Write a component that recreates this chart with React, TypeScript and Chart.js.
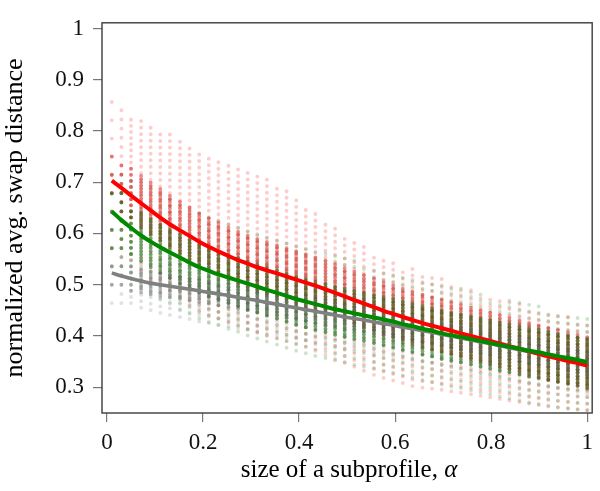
import { useEffect, useRef } from 'react';
import { Chart, registerables } from 'chart.js';

Chart.register(...registerables);

// subprofile sizes (one column of dots per value)
const alphaCols = [
  0.01, 0.03, 0.05, 0.071, 0.091, 0.111, 0.131, 0.152, 0.172, 0.192,
  0.212, 0.232, 0.253, 0.273, 0.293, 0.313, 0.333, 0.354, 0.374, 0.394,
  0.414, 0.434, 0.455, 0.475, 0.495, 0.515, 0.535, 0.556, 0.576, 0.596,
  0.616, 0.636, 0.657, 0.677, 0.697, 0.717, 0.737, 0.758, 0.778, 0.798,
  0.818, 0.838, 0.859, 0.879, 0.899, 0.919, 0.939, 0.96, 0.98, 1.0,
];

// mean curves
const redLine = [
  0.703, 0.689, 0.674, 0.659, 0.645, 0.631, 0.618, 0.606, 0.595, 0.584,
  0.574, 0.565, 0.556, 0.548, 0.541, 0.534, 0.528, 0.522, 0.516, 0.51,
  0.504, 0.498, 0.491, 0.484, 0.477, 0.47, 0.463, 0.456, 0.449, 0.443,
  0.437, 0.431, 0.425, 0.42, 0.415, 0.41, 0.405, 0.4, 0.395, 0.39,
  0.385, 0.38, 0.375, 0.37, 0.365, 0.36, 0.356, 0.351, 0.347, 0.342,
];
const greenLine = [
  0.643, 0.626, 0.611, 0.596, 0.584, 0.573, 0.563, 0.553, 0.543, 0.534,
  0.527, 0.52, 0.514, 0.508, 0.502, 0.496, 0.49, 0.484, 0.478, 0.472,
  0.467, 0.462, 0.457, 0.452, 0.448, 0.444, 0.44, 0.436, 0.432, 0.428,
  0.423, 0.419, 0.414, 0.41, 0.405, 0.401, 0.398, 0.394, 0.39, 0.386,
  0.382, 0.379, 0.375, 0.371, 0.368, 0.364, 0.36, 0.357, 0.353, 0.349,
];
const grayLine = [
  0.523, 0.517, 0.512, 0.507, 0.503, 0.5, 0.497, 0.494, 0.491, 0.488,
  0.485, 0.482, 0.479, 0.475, 0.472, 0.469, 0.465, 0.462, 0.458, 0.455,
  0.451, 0.448, 0.444, 0.441, 0.437, 0.434, 0.431, 0.427, 0.424, 0.421,
  0.417, 0.414, 0.41, 0.407, 0.403, 0.4, 0.396, 0.392, 0.388, 0.385,
  0.381, 0.377, 0.373, 0.369, 0.366, 0.362, 0.358, 0.354, 0.351, 0.347,
];

// dot clouds: full spread and dense core per column
const redOuterLo = [
  0.571, 0.554, 0.548, 0.527, 0.514, 0.501, 0.488, 0.474, 0.461, 0.449,
  0.441, 0.434, 0.427, 0.42, 0.413, 0.406, 0.4, 0.395, 0.39, 0.385,
  0.379, 0.371, 0.363, 0.355, 0.348, 0.34, 0.332, 0.324, 0.318, 0.313,
  0.308, 0.302, 0.299, 0.297, 0.295, 0.292, 0.289, 0.286, 0.283, 0.28,
  0.277, 0.274, 0.271, 0.268, 0.265, 0.262, 0.26, 0.258, 0.256, 0.255,
];
const redOuterHi = [
  0.857, 0.857, 0.833, 0.822, 0.808, 0.803, 0.8, 0.788, 0.775, 0.764,
  0.755, 0.744, 0.736, 0.73, 0.722, 0.714, 0.706, 0.696, 0.684, 0.667,
  0.652, 0.639, 0.628, 0.615, 0.601, 0.587, 0.577, 0.562, 0.55, 0.544,
  0.536, 0.531, 0.523, 0.519, 0.512, 0.503, 0.497, 0.49, 0.484, 0.479,
  0.471, 0.466, 0.462, 0.458, 0.454, 0.449, 0.444, 0.438, 0.432, 0.426,
];
const redCoreLo = [
  0.679, 0.643, 0.631, 0.612, 0.599, 0.586, 0.573, 0.561, 0.55, 0.539,
  0.529, 0.52, 0.511, 0.503, 0.496, 0.489, 0.483, 0.477, 0.471, 0.465,
  0.459, 0.453, 0.446, 0.439, 0.432, 0.425, 0.418, 0.411, 0.404, 0.398,
  0.392, 0.386, 0.38, 0.375, 0.37, 0.365, 0.36, 0.355, 0.35, 0.345,
  0.34, 0.335, 0.33, 0.325, 0.32, 0.315, 0.311, 0.306, 0.302, 0.297,
];
const redCoreHi = [
  0.786, 0.75, 0.738, 0.717, 0.704, 0.691, 0.678, 0.666, 0.655, 0.644,
  0.634, 0.625, 0.616, 0.608, 0.601, 0.594, 0.588, 0.582, 0.576, 0.57,
  0.564, 0.558, 0.551, 0.544, 0.537, 0.53, 0.523, 0.516, 0.509, 0.503,
  0.497, 0.491, 0.485, 0.48, 0.475, 0.47, 0.465, 0.46, 0.455, 0.45,
  0.445, 0.44, 0.435, 0.43, 0.425, 0.42, 0.416, 0.411, 0.407, 0.402,
];
const greenOuterLo = [
  0.536, 0.518, 0.512, 0.496, 0.484, 0.473, 0.463, 0.452, 0.443, 0.434,
  0.427, 0.421, 0.414, 0.408, 0.401, 0.395, 0.389, 0.383, 0.377, 0.371,
  0.366, 0.361, 0.357, 0.352, 0.348, 0.344, 0.34, 0.336, 0.332, 0.328,
  0.323, 0.319, 0.314, 0.31, 0.305, 0.301, 0.298, 0.294, 0.29, 0.286,
  0.282, 0.278, 0.274, 0.27, 0.267, 0.264, 0.261, 0.259, 0.257, 0.255,
];
const greenOuterHi = [
  0.75, 0.732, 0.714, 0.701, 0.689, 0.678, 0.668, 0.657, 0.648, 0.639,
  0.632, 0.626, 0.619, 0.613, 0.606, 0.6, 0.594, 0.588, 0.582, 0.576,
  0.571, 0.566, 0.562, 0.557, 0.553, 0.548, 0.543, 0.538, 0.533, 0.528,
  0.522, 0.517, 0.511, 0.506, 0.5, 0.495, 0.491, 0.486, 0.481, 0.476,
  0.472, 0.469, 0.465, 0.461, 0.458, 0.454, 0.45, 0.447, 0.443, 0.439,
];
const greenCoreLo = [
  0.571, 0.571, 0.56, 0.546, 0.534, 0.523, 0.513, 0.503, 0.493, 0.484,
  0.477, 0.47, 0.464, 0.458, 0.452, 0.446, 0.44, 0.434, 0.428, 0.422,
  0.417, 0.412, 0.407, 0.402, 0.398, 0.394, 0.39, 0.386, 0.382, 0.378,
  0.373, 0.369, 0.364, 0.36, 0.355, 0.351, 0.348, 0.344, 0.34, 0.336,
  0.332, 0.329, 0.325, 0.321, 0.318, 0.314, 0.31, 0.307, 0.303, 0.299,
];
const greenCoreHi = [
  0.679, 0.679, 0.655, 0.646, 0.634, 0.623, 0.613, 0.603, 0.593, 0.584,
  0.577, 0.57, 0.564, 0.558, 0.552, 0.546, 0.54, 0.534, 0.528, 0.522,
  0.517, 0.512, 0.507, 0.502, 0.498, 0.494, 0.49, 0.486, 0.482, 0.478,
  0.473, 0.469, 0.464, 0.46, 0.455, 0.451, 0.448, 0.444, 0.44, 0.436,
  0.432, 0.429, 0.425, 0.421, 0.418, 0.414, 0.41, 0.407, 0.403, 0.399,
];
const grayOuterLo = [
  0.464, 0.464, 0.464, 0.455, 0.45, 0.445, 0.441, 0.437, 0.433, 0.428,
  0.425, 0.422, 0.419, 0.415, 0.412, 0.409, 0.405, 0.402, 0.398, 0.395,
  0.391, 0.388, 0.384, 0.381, 0.377, 0.374, 0.371, 0.367, 0.364, 0.361,
  0.357, 0.354, 0.35, 0.347, 0.343, 0.34, 0.336, 0.332, 0.328, 0.325,
  0.321, 0.317, 0.313, 0.309, 0.306, 0.302, 0.298, 0.294, 0.291, 0.287,
];
const grayOuterHi = [
  0.571, 0.571, 0.56, 0.555, 0.55, 0.547, 0.544, 0.541, 0.538, 0.535,
  0.532, 0.529, 0.526, 0.522, 0.519, 0.516, 0.512, 0.509, 0.505, 0.502,
  0.498, 0.495, 0.491, 0.488, 0.484, 0.481, 0.478, 0.474, 0.471, 0.468,
  0.464, 0.461, 0.457, 0.454, 0.45, 0.447, 0.443, 0.439, 0.435, 0.432,
  0.428, 0.424, 0.42, 0.416, 0.413, 0.409, 0.405, 0.401, 0.398, 0.394,
];
const grayCoreLo = [
  0.5, 0.5, 0.488, 0.485, 0.481, 0.478, 0.475, 0.472, 0.469, 0.466,
  0.463, 0.46, 0.457, 0.453, 0.45, 0.447, 0.443, 0.44, 0.436, 0.433,
  0.429, 0.426, 0.422, 0.419, 0.415, 0.412, 0.409, 0.405, 0.402, 0.399,
  0.395, 0.392, 0.388, 0.385, 0.381, 0.378, 0.374, 0.37, 0.366, 0.363,
  0.359, 0.355, 0.351, 0.347, 0.344, 0.34, 0.336, 0.332, 0.329, 0.325,
];
const grayCoreHi = [
  0.536, 0.536, 0.536, 0.529, 0.525, 0.522, 0.519, 0.516, 0.513, 0.51,
  0.507, 0.504, 0.501, 0.497, 0.494, 0.491, 0.487, 0.484, 0.48, 0.477,
  0.473, 0.47, 0.466, 0.463, 0.459, 0.456, 0.453, 0.449, 0.446, 0.443,
  0.439, 0.436, 0.432, 0.429, 0.425, 0.422, 0.418, 0.414, 0.41, 0.407,
  0.403, 0.399, 0.395, 0.391, 0.388, 0.384, 0.38, 0.376, 0.373, 0.369,
];

// level spacing of the first sparse columns (value units)
const sparseSteps = [0.0357, 0.0179, 0.0119];

const xTicks = [0, 0.2, 0.4, 0.6, 0.8, 1];
const yTicks = [0.3, 0.4, 0.5, 0.6, 0.7, 0.8, 0.9, 1];

const FONT = "'Liberation Serif', 'Times New Roman', serif";
const CORE_PITCH = 3.2;
const OUTER_PITCH = 6.5;

const rangeData = (lo: number[], hi: number[]) =>
  alphaCols.flatMap((x, i) => [
    { x, y: lo[i] },
    { x, y: hi[i] },
    { x, y: null },
  ]);

const lineData = (vals: number[]) => alphaCols.map((x, i) => ({ x, y: vals[i] }));

const dashFor = (pitch: number) => (ctx: any) => {
  const col = Math.floor(ctx.p0DataIndex / 3);
  if (col >= sparseSteps.length) return [0.01, pitch];
  const y = ctx.chart.scales.y;
  const unit = Math.abs(y.getPixelForValue(0) - y.getPixelForValue(1));
  return [0.01, Math.max(sparseSteps[col] * unit * 0.999, CORE_PITCH)];
};

const cloud = (lo: number[], hi: number[], color: string, pitch: number, order: number) => ({
  data: rangeData(lo, hi),
  showLine: true,
  spanGaps: false,
  pointRadius: 0,
  borderColor: color,
  borderWidth: 3.9,
  borderCapStyle: 'round' as const,
  borderDash: [0.01, pitch],
  segment: { borderDash: dashFor(pitch) },
  order,
});

const curve = (vals: number[], color: string, width: number, order: number) => ({
  data: lineData(vals),
  showLine: true,
  pointRadius: 0,
  borderColor: color,
  borderWidth: width,
  cubicInterpolationMode: 'monotone' as const,
  order,
});

const framePlugin = {
  id: 'frame',
  afterDraw(chart: any) {
    const { ctx, chartArea } = chart;
    const { left, top, right, bottom } = chartArea;
    ctx.save();
    ctx.strokeStyle = '#3c3c3c';
    ctx.lineWidth = 1.4;
    ctx.strokeRect(left, top, right - left, bottom - top);

    // x axis title with italic alpha
    const plain = 'size of a subprofile, ';
    const ital = 'α';
    ctx.fillStyle = '#000';
    ctx.textBaseline = 'alphabetic';
    ctx.font = `25px ${FONT}`;
    const w1 = ctx.measureText(plain).width;
    ctx.font = `italic 25px ${FONT}`;
    const w2 = ctx.measureText(ital).width;
    const x0 = 349 - (w1 + w2) / 2;
    ctx.font = `25px ${FONT}`;
    ctx.textAlign = 'left';
    ctx.fillText(plain, x0, 477);
    ctx.font = `italic 25px ${FONT}`;
    ctx.fillText(ital, x0 + w1, 477);
    ctx.restore();
  },
};

const fmt = (v: number | string) => `${+Number(v).toFixed(2)}`;

export default function App() {
  const canvasRef = useRef<HTMLCanvasElement | null>(null);
  const chartRef = useRef<Chart | null>(null);

  useEffect(() => {
    if (!canvasRef.current) return;
    if (chartRef.current) chartRef.current.destroy();

    chartRef.current = new Chart(canvasRef.current, {
      type: 'scatter',
      data: {
        datasets: [
          curve(greenLine, '#008a00', 4, 0),
          curve(redLine, '#ff0000', 4, 1),
          curve(grayLine, '#808080', 3.6, 2),
          cloud(grayCoreLo, grayCoreHi, 'rgba(95,95,95,0.45)', CORE_PITCH, 3),
          cloud(greenCoreLo, greenCoreHi, 'rgba(0,100,0,0.5)', CORE_PITCH, 4),
          cloud(redCoreLo, redCoreHi, 'rgba(220,0,0,0.46)', CORE_PITCH, 5),
          cloud(grayOuterLo, grayOuterHi, 'rgba(120,120,120,0.22)', OUTER_PITCH, 6),
          cloud(greenOuterLo, greenOuterHi, 'rgba(0,120,0,0.2)', OUTER_PITCH, 7),
          cloud(redOuterLo, redOuterHi, 'rgba(255,0,0,0.2)', OUTER_PITCH, 8),
        ] as any,
      },
      options: {
        responsive: false,
        animation: false,
        events: [],
        layout: { padding: { top: 4, right: 6, left: 0, bottom: 0 } },
        plugins: { legend: { display: false }, tooltip: { enabled: false } },
        scales: {
          x: {
            type: 'linear',
            min: -0.0104,
            max: 1.0104,
            afterFit: (s: any) => {
              s.height = 78;
            },
            afterBuildTicks: (s: any) => {
              s.ticks = xTicks.map((value) => ({ value }));
            },
            ticks: {
              font: { family: FONT, size: 23 },
              color: '#111',
              padding: 7,
              maxRotation: 0,
              callback: fmt,
            },
            grid: { drawOnChartArea: false, tickLength: 9, color: '#777', lineWidth: 1.2 },
            border: { display: false },
          },
          y: {
            type: 'linear',
            min: 0.2495,
            max: 1.0112,
            afterFit: (s: any) => {
              s.width = 102;
            },
            afterBuildTicks: (s: any) => {
              s.ticks = yTicks.map((value) => ({ value }));
            },
            ticks: {
              font: { family: FONT, size: 23 },
              color: '#111',
              padding: 9,
              callback: fmt,
            },
            grid: { drawOnChartArea: false, tickLength: 9, color: '#777', lineWidth: 1.2 },
            border: { display: false },
            title: {
              display: true,
              text: 'normalized avg. swap distance',
              font: { family: FONT, size: 26, lineHeight: 1.2 },
              color: '#000',
              padding: { top: 0, bottom: 0 },
            },
          },
        },
      },
      plugins: [framePlugin],
    });

    return () => {
      chartRef.current?.destroy();
      chartRef.current = null;
    };
  }, []);

  return (
    <div style={{ position: 'fixed', left: 0, top: 0, width: 600, height: 491, background: '#fff' }}>
      <canvas ref={canvasRef} width={600} height={491} />
    </div>
  );
}
